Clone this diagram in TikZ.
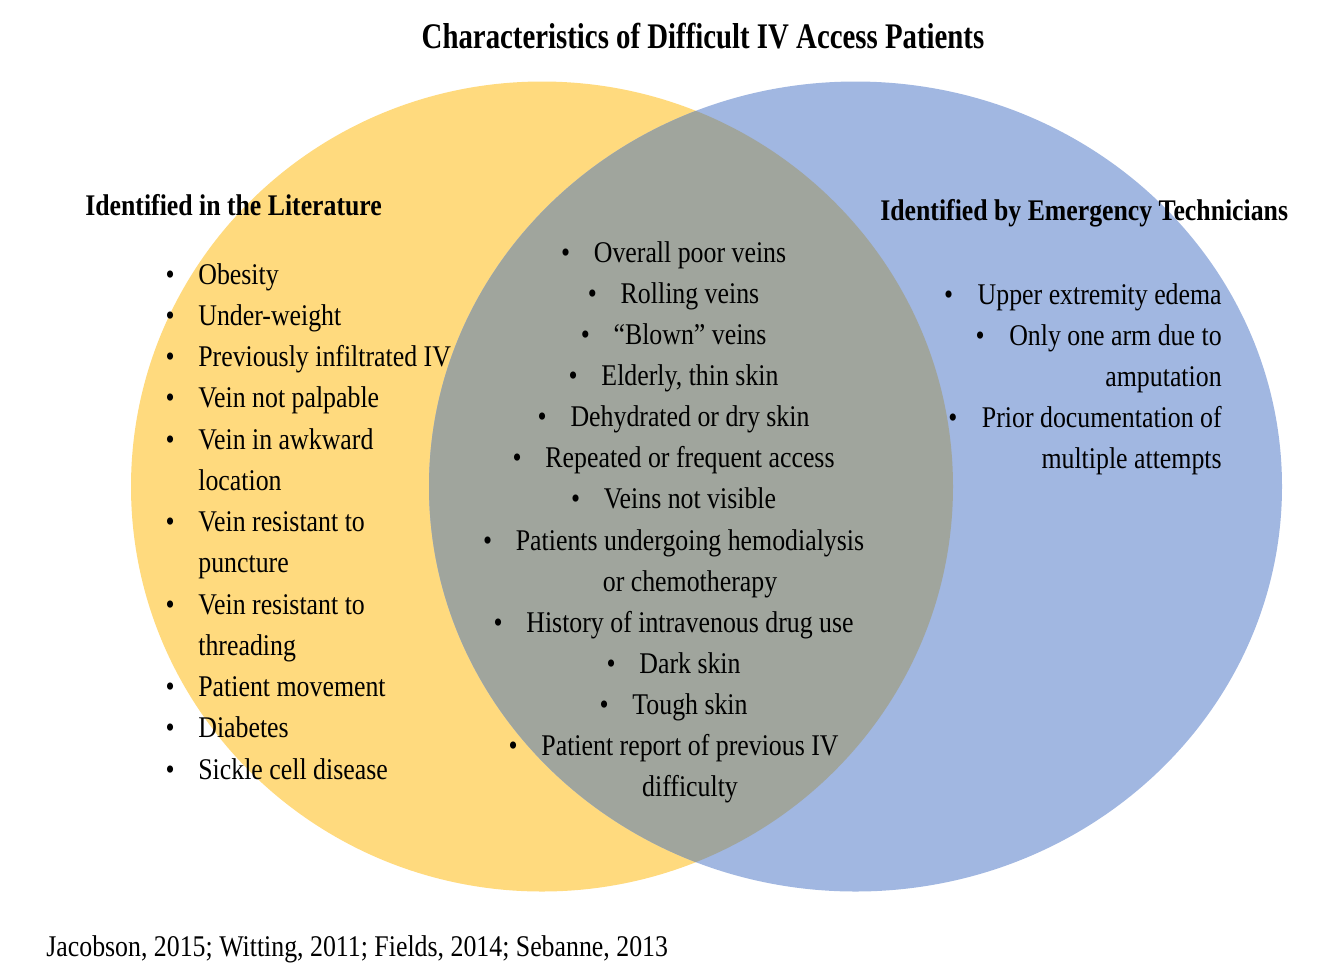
\documentclass[tikz,border=0pt]{standalone}
\usepackage{fontspec}
\setmainfont{Liberation Serif}[FakeStretch=0.86]
\newfontfamily\titlefont{Liberation Serif}[FakeStretch=0.80]
\usetikzlibrary{calc}

\definecolor{litfill}{RGB}{255,218,126}
\definecolor{emtfill}{RGB}{161,183,225}
\definecolor{bothfill}{RGB}{160,165,157}

\begin{document}
\begin{tikzpicture}[x=0.02cm, y=-0.02cm,
  item/.style={inner sep=0, font=\fontsize{17.1}{20}\selectfont},
  dot/.style={inner sep=0, anchor=base, font=\fontsize{17.1}{20}\selectfont},
  head/.style={inner sep=0, font=\fontsize{17.05}{20}\selectfont\bfseries}]
\useasboundingbox (0,0) rectangle (1342,968);
% the two sets
\fill[litfill] (542,486.5) ellipse [x radius=411, y radius=405];
\fill[emtfill] (855.5,486.5) ellipse [x radius=426.5, y radius=405];
\begin{scope}
 \clip (542,486.5) ellipse [x radius=411, y radius=405];
 \fill[bothfill] (855.5,486.5) ellipse [x radius=426.5, y radius=405];
\end{scope}
% titles
\node[inner sep=0, anchor=base, font=\titlefont\fontsize{20.5}{24}\selectfont\bfseries] (title) at (703,48) {Characteristics of Difficult IV Access Patients};
\node[head, anchor=base west] (lit) at (85,215) {Identified in the Literature};
\node[head, anchor=base west] (emt) at (880,220) {Identified by Emergency Technicians};
% literature only
\foreach \txt [count=\i] in {Obesity, Under-weight, Previously infiltrated IV, Vein not palpable,
  Vein in awkward, location, Vein resistant to, puncture, Vein resistant to, threading,
  Patient movement, Diabetes, Sickle cell disease}
 \node[item, anchor=base west] (lit\i) at (198,{284+(\i-1)*41.25}) {\txt};
\foreach \i in {1,2,3,4,5,7,9,11,12,13}
 \node[dot] (litb\i) at ([xshift=-15.9pt]lit\i.base west) {\textbullet};
% both
\foreach \txt [count=\i] in {Overall poor veins, Rolling veins, “Blown” veins, {Elderly, thin skin},
  Dehydrated or dry skin, Repeated or frequent access, Veins not visible,
  Patients undergoing hemodialysis, or chemotherapy, History of intravenous drug use,
  Dark skin, Tough skin, Patient report of previous IV, difficulty}
 \node[item, anchor=base] (mid\i) at (690,{262+(\i-1)*41.15}) {\txt};
\foreach \i in {1,...,8,10,11,12,13}
 \node[dot] (midb\i) at ([xshift=-15.9pt]mid\i.base west) {\textbullet};
% technicians only
\foreach \txt [count=\i] in {Upper extremity edema, Only one arm due to, amputation,
  Prior documentation of, multiple attempts}
 \node[item, anchor=base east] (emt\i) at (1222,{304+(\i-1)*41}) {\txt};
\foreach \i in {1,2,4}
 \node[dot] (emtb\i) at ([xshift=-16.4pt]emt\i.base west) {\textbullet};
% sources
\node[item, anchor=base west] (ref) at (46,956) {Jacobson, 2015; Witting, 2011; Fields, 2014; Sebanne, 2013};
\end{tikzpicture}
\end{document}
